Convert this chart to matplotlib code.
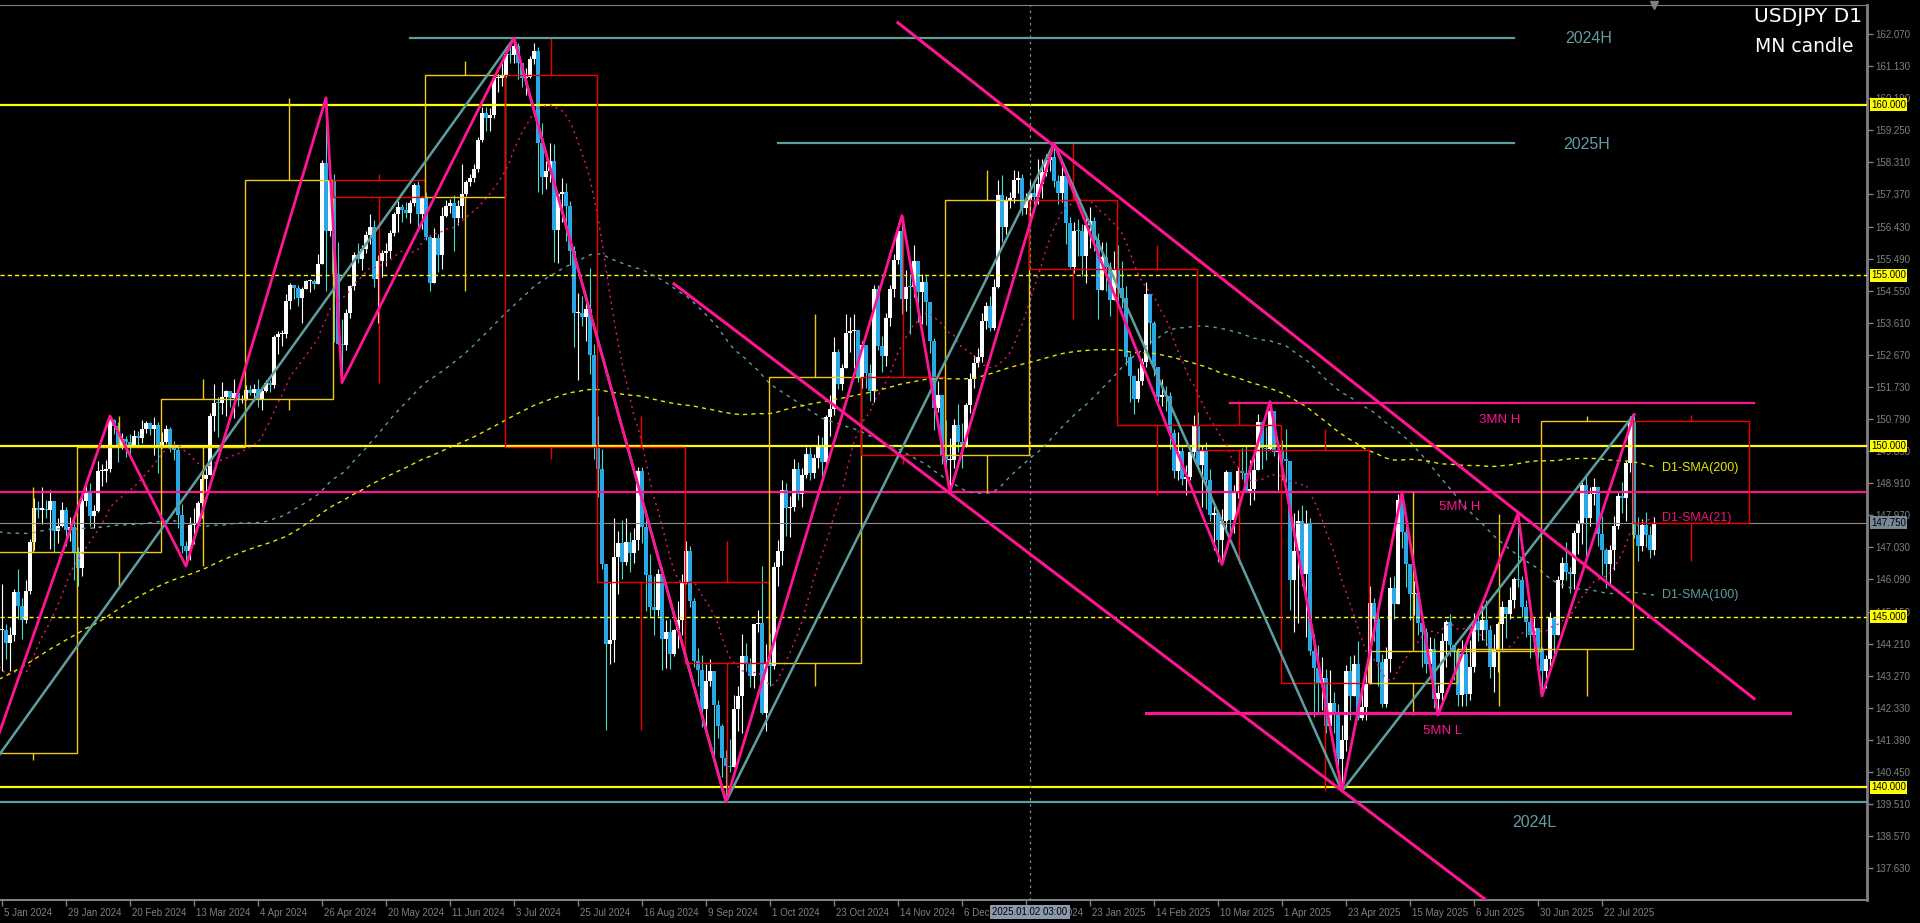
import numpy as np
import pandas as pd
import matplotlib
matplotlib.use("Agg")
import matplotlib.pyplot as plt
import matplotlib.transforms as mtransforms
from matplotlib.patches import Rectangle

plt.rcParams['font.family'] = ['Liberation Sans', 'DejaVu Sans']

# daily closes before the window (late Mar 2023 .. 29 Dec 2023), only used to warm up the SMAs
pre_closes = [
    131.0, 130.9, 132.9, 132.7, 132.8,
    132.5, 131.6, 131.3, 131.8, 132.1, 133.6, 133.7, 133.0, 132.6, 133.8, 134.2, 134.1, 134.7, 134.2, 134.1, 134.3, 133.7, 133.6, 134.0, 136.3,
    137.5, 136.5, 134.7, 134.3, 134.8, 135.1, 135.2, 134.4, 134.5, 135.7, 136.1, 136.4, 137.6, 138.7, 137.9, 138.6, 138.6, 139.5, 139.9, 140.6, 140.4, 139.8, 139.3,
    138.8, 139.9, 139.6, 139.1, 139.6, 139.4, 139.3, 140.2, 140.1, 140.0, 141.8, 141.9, 141.2, 141.9, 141.6, 142.9, 143.5, 143.7, 143.5, 144.4, 144.3, 144.3,
    144.7, 144.7, 144.2, 143.7, 142.2, 141.3, 140.4, 138.6, 138.8, 138.9, 138.7, 139.4, 140.0, 141.9, 141.5, 140.7, 141.5, 141.1, 139.9, 141.2, 142.3,
    143.3, 143.3, 142.6, 141.8, 142.5, 143.4, 143.7, 144.7, 144.9, 145.6, 145.5, 146.4, 145.8, 145.4, 145.9, 145.4, 144.8, 146.4, 146.5, 145.9, 146.1, 145.5, 145.6,
    146.2, 146.5, 147.7, 147.7, 147.3, 147.8, 146.6, 147.1, 147.4, 147.5, 147.9, 147.7, 147.9, 148.4, 148.3, 148.4, 148.9, 149.0, 149.6, 149.3, 149.4,
    149.9, 149.9, 149.1, 149.3, 149.3, 148.5, 148.7, 149.1, 149.8, 149.5, 149.5, 149.9, 149.8, 149.9, 149.9, 149.7, 149.9, 150.1, 150.4, 149.6, 149.6, 151.7,
    150.9, 150.4, 149.4, 150.0, 150.3, 151.0, 151.4, 151.5, 151.7, 150.3, 150.5, 149.7, 148.4, 148.6, 149.5, 149.7, 148.8, 147.4, 147.5, 148.2, 147.2, 148.1,
    146.8, 147.2, 147.0, 147.1, 144.1, 144.9, 145.3, 145.6, 145.4, 142.8, 141.9, 142.2, 142.8, 143.8, 143.6, 142.1, 142.4, 141.8, 141.4, 141.0,
]

# USDJPY D1, 2 Jan 2024 .. 8 Aug 2025 (one line per month)
closes = [
    141.98, 143.28, 144.60, 144.62, 144.23, 144.46, 145.73, 145.30, 144.90, 145.75, 147.19, 148.17, 148.14, 148.14, 148.12, 148.38, 147.52, 147.66, 148.13, 147.54, 147.63, 146.90,
    146.44, 148.38, 148.68, 147.94, 148.09, 149.28, 149.28, 149.34, 150.76, 150.60, 149.94, 150.20, 150.12, 150.01, 150.29, 150.24, 150.51, 150.66, 150.50, 150.62, 149.97,
    150.11, 150.51, 150.00, 149.88, 147.98, 147.06, 146.93, 147.70, 147.75, 148.34, 149.03, 149.15, 150.89, 151.27, 151.25, 151.43, 151.60, 151.41, 151.56, 151.35, 151.37,
    151.65, 151.56, 151.68, 151.34, 151.62, 151.85, 151.78, 153.18, 153.27, 153.28, 154.26, 154.72, 154.63, 154.35, 154.60, 154.83, 154.83, 154.75, 155.32, 158.30, 156.31, 157.79,
    155.03, 153.00, 152.97, 153.89, 154.69, 155.59, 155.48, 155.77, 156.19, 156.43, 154.88, 155.43, 155.64, 155.70, 156.23, 156.80, 156.99, 156.92, 156.84, 157.13, 157.64, 156.81, 157.29,
    156.11, 154.79, 156.08, 155.60, 156.73, 157.04, 157.11, 156.68, 157.03, 157.37, 157.73, 157.85, 158.12, 158.97, 159.77, 159.62, 159.71, 160.78, 160.78, 160.88,
    161.47, 161.45, 161.71, 161.21, 160.77, 160.80, 161.33, 161.58, 158.88, 157.87, 158.07, 158.34, 156.34, 157.37, 157.44, 157.04, 155.71, 153.90, 153.90, 153.78, 154.02, 152.68, 149.97,
    149.33, 146.53, 144.19, 144.31, 146.76, 147.16, 146.59, 147.19, 146.86, 147.25, 149.28, 147.62, 146.23, 145.28, 145.19, 146.25, 144.36, 144.55, 143.91, 144.61, 144.91, 146.03,
    146.93, 145.45, 143.71, 143.43, 142.30, 143.11, 143.41, 142.41, 141.79, 140.85, 140.62, 140.61, 142.29, 142.68, 143.86, 143.61, 143.25, 144.78, 144.81, 142.19, 143.63,
    143.55, 146.45, 146.93, 148.70, 148.19, 148.21, 149.33, 148.60, 149.14, 149.77, 149.22, 149.65, 150.04, 149.52, 150.86, 151.08, 152.76, 151.83, 152.29, 153.32, 153.37, 153.39, 152.02,
    152.97, 152.13, 151.62, 154.61, 152.94, 152.64, 153.76, 154.61, 155.46, 156.30, 154.30, 154.67, 154.66, 155.42, 154.52, 154.80, 154.23, 153.07, 151.10, 151.48, 149.75,
    149.58, 149.60, 150.62, 150.11, 149.97, 151.20, 151.95, 152.42, 152.60, 153.66, 154.09, 153.45, 154.66, 157.34, 156.43, 157.17, 157.28, 157.80, 157.84, 156.96, 157.20,
    157.40, 157.30, 157.68, 158.03, 158.37, 158.46, 157.76, 157.42, 157.92, 156.53, 155.24, 156.30, 156.29, 155.57, 156.47, 156.58, 156.03, 154.57, 155.54, 155.25, 154.27, 155.20,
    154.63, 154.34, 152.62, 152.06, 151.39, 151.91, 152.47, 154.46, 153.59, 152.31, 151.43, 151.48, 151.47, 150.38, 149.27, 149.84, 149.02, 149.09, 149.81, 150.63,
    149.45, 149.85, 149.01, 147.97, 148.04, 147.24, 147.81, 149.24, 147.83, 148.65, 149.27, 149.22, 148.68, 148.73, 149.31, 150.70, 149.93, 149.91, 151.02, 149.81, 149.88,
    149.62, 149.56, 146.07, 146.93, 147.80, 146.24, 147.72, 144.00, 143.49, 143.06, 143.20, 141.80, 142.47, 142.13, 140.84, 141.40, 143.42, 142.69, 143.62, 142.02, 142.35, 143.07,
    145.40, 144.92, 143.66, 142.43, 143.77, 145.85, 145.37, 148.42, 147.48, 146.54, 145.66, 145.68, 144.82, 144.54, 143.60, 144.04, 142.59, 142.75, 144.30, 144.84, 144.16, 143.99,
    142.72, 143.92, 142.73, 143.52, 144.86, 144.60, 144.90, 144.61, 143.52, 144.06, 144.78, 145.28, 145.09, 145.49, 146.10, 146.07, 145.29, 144.85, 144.45, 144.67, 144.06,
    143.40, 143.75, 144.95, 144.45, 146.08, 146.56, 146.30, 146.25, 147.44, 147.74, 148.87, 147.88, 148.59, 148.81, 147.41, 146.96, 146.53, 146.96, 147.67, 148.53, 148.47, 149.50, 150.73,
    147.40, 147.06, 147.68, 147.40, 146.96, 147.75,
]
highs = [
    142.20, 143.73, 144.85, 145.97, 144.79, 144.70, 145.80, 146.41, 145.56, 146.07, 147.28, 148.49, 148.38, 148.80, 148.43, 148.70, 148.25, 147.88, 148.36, 148.21, 147.92, 147.88,
    147.05, 148.58, 148.88, 148.91, 148.27, 149.57, 149.48, 149.58, 150.88, 150.78, 150.71, 150.38, 150.28, 150.35, 150.46, 150.43, 150.77, 150.72, 150.70, 150.84, 150.71,
    150.41, 150.61, 150.56, 150.16, 150.02, 148.31, 147.23, 147.93, 148.18, 148.38, 149.17, 149.36, 150.96, 151.82, 151.43, 151.87, 151.64, 151.62, 151.97, 151.58, 151.49,
    151.78, 151.79, 151.81, 151.95, 151.70, 151.92, 151.93, 153.25, 153.38, 153.40, 154.44, 154.78, 154.71, 154.73, 154.65, 154.85, 154.89, 154.88, 155.63, 158.39, 160.20, 157.94,
    157.98, 155.98, 153.71, 154.00, 154.72, 155.67, 155.95, 155.88, 156.29, 156.79, 156.63, 155.60, 155.75, 155.94, 156.34, 156.86, 157.19, 157.09, 157.15, 157.20, 157.71, 157.77, 157.33,
    157.44, 156.14, 156.40, 156.20, 157.00, 157.21, 157.25, 157.35, 157.20, 158.25, 157.80, 157.98, 158.27, 159.06, 159.94, 159.94, 159.89, 160.87, 160.89, 161.28,
    161.72, 161.73, 161.95, 161.82, 161.22, 161.08, 161.43, 161.80, 161.70, 159.45, 158.36, 158.87, 158.86, 157.40, 157.86, 157.70, 157.19, 155.85, 154.47, 154.39, 154.20, 155.22, 153.00,
    150.89, 149.91, 146.55, 145.98, 147.90, 147.50, 147.82, 147.88, 147.49, 147.60, 149.39, 149.39, 148.03, 146.85, 146.18, 146.40, 146.45, 144.91, 144.94, 144.65, 145.46, 146.25,
    147.21, 147.07, 145.56, 144.08, 143.88, 143.60, 143.77, 143.42, 142.55, 141.85, 141.08, 141.42, 142.72, 142.96, 144.49, 144.22, 143.80, 144.78, 145.21, 146.49, 144.20,
    144.53, 146.60, 147.24, 149.00, 148.91, 148.55, 149.63, 149.54, 149.36, 149.96, 149.98, 149.78, 150.32, 150.25, 150.90, 151.50, 153.19, 152.83, 152.41, 153.88, 153.78, 153.87, 153.24,
    153.08, 152.91, 152.41, 154.71, 154.72, 153.23, 153.91, 154.73, 155.62, 156.52, 156.75, 155.15, 155.05, 155.88, 155.19, 155.04, 154.98, 154.16, 153.16, 151.90, 151.38,
    150.75, 150.23, 150.78, 151.22, 150.68, 151.26, 152.13, 152.67, 152.86, 153.91, 154.23, 154.40, 154.90, 157.78, 157.93, 157.31, 157.45, 158.08, 158.06, 157.97, 157.42,
    157.79, 157.71, 158.42, 158.42, 158.55, 158.47, 158.87, 157.94, 158.19, 158.09, 156.71, 156.55, 156.64, 156.49, 156.79, 156.99, 156.71, 156.24, 155.97, 155.99, 155.38, 155.71,
    155.89, 155.42, 154.69, 152.72, 152.08, 152.29, 152.57, 154.80, 154.40, 153.66, 152.25, 151.97, 151.75, 151.57, 150.51, 150.41, 149.96, 149.44, 149.98, 150.91,
    150.99, 150.03, 150.12, 149.32, 148.33, 147.99, 148.15, 149.31, 149.20, 148.86, 149.38, 149.94, 149.99, 149.59, 149.76, 150.94, 150.72, 150.55, 151.30, 151.01, 150.00,
    150.18, 150.49, 149.28, 148.05, 148.14, 148.28, 148.14, 147.88, 144.50, 144.18, 143.81, 143.47, 143.43, 142.80, 142.43, 141.82, 143.59, 143.86, 143.87, 144.29, 142.91, 143.38,
    145.91, 145.55, 145.25, 143.90, 144.12, 146.17, 146.18, 148.59, 148.65, 147.65, 146.23, 146.04, 145.72, 145.11, 144.68, 144.40, 144.38, 142.99, 144.53, 144.90, 145.09, 144.09,
    144.07, 144.32, 144.28, 144.31, 145.10, 145.08, 145.34, 145.48, 144.76, 144.48, 144.84, 145.45, 145.29, 145.88, 146.16, 148.02, 146.19, 145.50, 145.02, 144.95, 144.56,
    144.11, 143.88, 145.14, 144.85, 146.18, 146.75, 147.18, 146.47, 147.53, 147.83, 149.00, 149.18, 148.81, 149.06, 148.81, 147.95, 147.00, 147.09, 147.95, 148.63, 148.96, 149.56, 150.89,
    150.92, 147.93, 147.85, 148.07, 147.66, 147.91,
]
lows = [
    140.81, 141.80, 142.88, 143.42, 143.76, 143.42, 144.29, 144.92, 144.35, 144.82, 145.67, 146.95, 147.90, 147.72, 147.90, 146.98, 146.89, 147.15, 147.62, 147.08, 147.21, 146.07,
    145.90, 146.20, 148.24, 147.65, 147.59, 148.07, 148.82, 148.94, 149.23, 150.36, 149.52, 149.91, 149.68, 149.64, 150.00, 150.04, 150.08, 150.38, 150.32, 149.75, 149.22,
    149.95, 150.07, 149.83, 149.58, 147.61, 146.88, 146.48, 146.67, 147.13, 147.71, 147.89, 148.66, 149.33, 150.44, 150.26, 150.93, 150.87, 151.14, 150.82, 151.17, 151.27,
    151.36, 151.50, 151.33, 151.14, 151.06, 151.58, 151.59, 151.71, 152.70, 152.92, 153.16, 154.02, 154.30, 154.09, 153.59, 154.60, 154.51, 154.60, 154.75, 155.36, 154.53, 156.14,
    153.04, 152.99, 151.86, 152.80, 153.74, 154.58, 155.37, 155.17, 155.66, 155.91, 154.66, 153.60, 154.94, 155.28, 155.51, 156.14, 156.28, 156.57, 156.67, 156.52, 157.03, 156.38, 156.35,
    156.03, 154.55, 155.20, 155.09, 155.20, 156.72, 156.84, 155.71, 156.48, 156.67, 157.32, 157.61, 157.73, 158.04, 158.92, 159.24, 159.23, 159.61, 160.38, 160.55,
    160.80, 161.23, 161.21, 160.74, 160.51, 160.27, 160.78, 161.20, 157.44, 157.38, 157.52, 157.72, 155.38, 155.37, 156.57, 156.01, 155.29, 152.90, 151.94, 153.53, 153.07, 152.10, 149.62,
    148.51, 146.41, 141.68, 143.61, 143.68, 145.65, 146.11, 146.50, 146.32, 146.58, 146.94, 147.16, 145.18, 144.95, 144.47, 145.01, 143.44, 143.50, 143.46, 143.85, 144.08, 144.46,
    145.96, 145.27, 143.53, 142.97, 141.76, 141.75, 142.96, 140.71, 141.45, 140.29, 139.58, 140.44, 140.78, 141.66, 141.60, 143.41, 142.95, 142.90, 144.56, 142.16, 141.65,
    142.97, 143.46, 145.91, 146.50, 147.35, 147.32, 148.09, 148.42, 148.22, 149.05, 148.99, 149.06, 149.35, 149.11, 149.45, 150.30, 150.91, 151.66, 151.64, 152.71, 152.75, 152.28, 151.88,
    151.70, 151.70, 151.32, 151.28, 152.82, 152.16, 152.33, 153.53, 154.37, 155.33, 153.86, 153.95, 153.28, 154.37, 153.63, 153.57, 153.55, 152.73, 150.46, 151.00, 149.47,
    149.10, 148.65, 149.36, 149.83, 149.37, 149.97, 150.98, 151.71, 152.31, 152.47, 153.43, 153.38, 153.40, 154.62, 155.98, 156.20, 156.98, 157.12, 157.41, 156.76, 156.81,
    156.74, 156.95, 157.08, 157.26, 157.90, 158.05, 157.60, 157.09, 157.16, 155.92, 155.22, 155.06, 155.56, 154.98, 154.77, 155.80, 155.71, 153.72, 154.62, 154.53, 153.81, 154.27,
    154.06, 154.03, 152.38, 151.30, 150.94, 151.30, 151.80, 152.31, 153.00, 152.05, 151.28, 151.16, 151.03, 149.92, 149.07, 149.00, 148.86, 148.56, 149.00, 149.56,
    149.33, 148.22, 148.15, 147.79, 146.94, 146.59, 146.53, 147.53, 147.40, 147.46, 148.49, 149.04, 148.64, 148.26, 148.43, 149.29, 149.34, 149.59, 149.88, 149.72, 148.70,
    149.00, 148.95, 145.19, 144.55, 144.81, 145.90, 144.40, 143.87, 142.05, 142.20, 142.26, 141.60, 141.62, 141.60, 140.61, 139.89, 141.07, 141.97, 142.75, 141.98, 141.96, 141.96,
    143.03, 144.28, 142.97, 142.35, 142.34, 143.37, 144.94, 145.68, 147.00, 145.88, 144.91, 145.04, 144.46, 143.52, 143.34, 143.29, 142.33, 142.12, 142.55, 143.54, 143.86, 143.14,
    142.38, 142.38, 142.39, 142.56, 143.39, 144.30, 144.32, 144.14, 143.19, 142.80, 143.39, 144.01, 144.37, 144.93, 145.25, 145.86, 144.98, 144.40, 143.78, 144.00, 143.77,
    142.68, 142.90, 143.56, 143.83, 144.68, 145.85, 146.08, 145.70, 145.82, 146.85, 147.14, 146.64, 147.66, 148.28, 147.08, 146.23, 145.85, 145.96, 146.37, 147.56, 148.03, 147.81, 149.24,
    147.30, 146.62, 146.93, 147.05, 146.73, 146.82,
]

# swing points of the two zigzags (date, price)
zigzag_small = [("2024-01-02", 140.81), ("2024-02-13", 150.88), ("2024-03-11", 146.48), ("2024-04-29", 160.20),
                ("2024-05-03", 151.86), ("2024-07-03", 161.95), ("2024-09-16", 139.58), ("2024-11-15", 156.75),
                ("2024-12-03", 148.65), ("2025-01-10", 158.87), ("2025-03-11", 146.53), ("2025-03-27", 151.30),
                ("2025-04-22", 139.89), ("2025-05-13", 148.65), ("2025-05-26", 142.12), ("2025-06-23", 148.02),
                ("2025-07-01", 142.68), ("2025-08-01", 150.92)]
zigzag_big = [("2023-12-28", 140.25), ("2024-07-03", 161.95), ("2024-09-16", 139.58),
              ("2025-01-10", 158.87), ("2025-04-22", 139.89), ("2025-08-01", 150.92)]

# hand drawn objects
channel_upper = [("2024-11-14", 162.40), ("2025-09-02", 142.60)]
channel_lower = [("2024-08-28", 154.75), ("2025-06-11", 136.70)]
high_2024 = ("2024-05-28", "2025-06-20", 161.95)
high_2025 = ("2024-10-03", "2025-06-20", 158.88)
high_3mn = ("2025-03-13", "2025-09-02", 151.26)
low_5mn = ("2025-02-12", "2025-09-11", 142.19)
high_5mn = 148.66
low_2024 = 139.56
round_levels = [160.0, 150.0, 140.0]
half_levels = [155.0, 145.0]
last_price = 147.75
crosshair_day = "2025-01-02"

CADET = '#5f9ea0'
PINK = '#ff1493'
YEL = '#ffff00'
GRAY = '#808080'


def trading_days(start, end):
    d = pd.bdate_range(start, end)
    return d[~(((d.month == 1) & (d.day == 1)) | ((d.month == 12) & (d.day == 25)))]


dates = trading_days('2024-01-02', '2025-08-08')
assert len(dates) == len(closes) == len(highs) == len(lows), (len(dates), len(closes), len(highs), len(lows))
first = dates.get_loc(pd.Timestamp('2024-01-05'))
xs = np.arange(len(dates)) - first

c = np.array(closes)
o = np.array([pre_closes[-1]] + closes[:-1])
h = np.maximum(np.array(highs), np.maximum(o, c))
l = np.minimum(np.array(lows), np.minimum(o, c))


def bar_x(day):
    day = pd.Timestamp(day)
    if day > dates[-1]:
        return xs[-1] + (day - dates[-1]).days
    if day < dates[0]:
        return xs[0] - (len(trading_days(day, dates[0])) - 1)
    return xs[dates.get_loc(day)]


fig = plt.figure(figsize=(19.2, 9.23), dpi=100, facecolor='black')
ax = fig.add_axes([0, 23 / 923, 1867 / 1920, 895 / 923])
ax.set_facecolor('black')
ax.set_xlim(-0.5, 466.25)
ax.set_ylim(136.70, 162.92)

# level lines
for lv in round_levels:
    ax.axhline(lv, color=YEL, lw=1.6, zorder=4)
for lv in half_levels:
    ax.axhline(lv, color=YEL, lw=1.0, ls=(0, (3, 2.2)), zorder=4)
ax.axhline(high_5mn, color=PINK, lw=1.6, zorder=4)
ax.axhline(low_2024, color=CADET, lw=1.6, zorder=4)
ax.axhline(last_price, color='#8c8c8c', lw=0.8, zorder=4)
ax.axvline(bar_x(crosshair_day), color='#7f8c99', lw=0.9, ls=(0, (2, 3)), zorder=4)

# candles
up = c >= o
body_lo = np.minimum(o, c)
body_h = np.maximum(np.abs(c - o), 0.03)
ax.vlines(xs[up], l[up], h[up], color='white', lw=0.8, zorder=2)
ax.vlines(xs[~up], l[~up], h[~up], color='#40e0d0', lw=0.8, zorder=2)
ax.bar(xs[up], body_h[up], bottom=body_lo[up], width=0.8, color='white', lw=0, zorder=3)
ax.bar(xs[~up], body_h[~up], bottom=body_lo[~up], width=0.8, color='#28a8e6', lw=0, zorder=3)

# moving averages
all_close = pd.Series(pre_closes + closes)
sma_styles = {21: ('#e8176f', (0, (1.5, 3))), 100: (CADET, (0, (2.5, 3.5))), 200: ('#e6e600', (0, (3, 3)))}
for n, (col, ls) in sma_styles.items():
    sma = all_close.rolling(n).mean().values[-len(dates):]
    ax.plot(xs, sma, color=col, lw=1.0, ls=ls, zorder=5)

# monthly candles
months = dates.to_period('M')
for m in months.unique():
    sel = np.where(months == m)[0]
    mo, mc = o[sel[0]], c[sel[-1]]
    mh, ml = h[sel].max(), l[sel].min()
    x0 = xs[sel[0]] - 0.3
    if sel[-1] + 1 < len(dates):
        x1 = xs[sel[-1] + 1] - 0.3
    else:
        x1 = bar_x((m + 1).start_time) - 0.3
    col = '#f2c811' if mc >= mo else '#ee0000'
    ax.add_patch(Rectangle((x0, min(mo, mc)), x1 - x0, abs(mc - mo), fill=False, ec=col, lw=1.0, zorder=6))
    xm = (x0 + x1) / 2
    ax.vlines(xm, max(mo, mc), mh, color=col, lw=1.0, zorder=6)
    ax.vlines(xm, ml, min(mo, mc), color=col, lw=1.0, zorder=6)

# horizontal segments
for d0, d1, p in [high_2024, high_2025]:
    ax.plot([bar_x(d0), bar_x(d1)], [p, p], color=CADET, lw=1.6, zorder=7)
ax.plot([bar_x(high_3mn[0]), bar_x(high_3mn[1])], [high_3mn[2]] * 2, color=PINK, lw=1.6, zorder=7)
ax.plot([bar_x(low_5mn[0]), bar_x(low_5mn[1])], [low_5mn[2]] * 2, color=PINK, lw=2.3, zorder=7)

# zigzags
zx = [bar_x(d) for d, _ in zigzag_big]
ax.plot(zx, [p for _, p in zigzag_big], color=CADET, lw=1.8, zorder=8)
zx = [bar_x(d) for d, _ in zigzag_small]
ax.plot(zx, [p for _, p in zigzag_small], color=PINK, lw=2.0, zorder=9)

# channel
for line in [channel_upper, channel_lower]:
    ax.plot([bar_x(d) for d, _ in line], [p for _, p in line], color=PINK, lw=2.2, zorder=9)

# object labels
ax.text(390.7, 161.95, "2024H", color=CADET, fontsize=11.5, va='center', ha='left', zorder=10)
ax.text(390.2, 158.82, "2025H", color=CADET, fontsize=11.5, va='center', ha='left', zorder=10)
ax.text(377.5, 138.98, "2024L", color=CADET, fontsize=11.5, va='center', ha='left', zorder=10)
ax.text(369.2, 150.76, "3MN H", color=PINK, fontsize=9.5, va='center', ha='left', zorder=10)
ax.text(359.2, 148.21, "5MN H", color=PINK, fontsize=9.5, va='center', ha='left', zorder=10)
ax.text(355.2, 141.65, "5MN L", color=PINK, fontsize=9.5, va='center', ha='left', zorder=10)
ax.text(415, 149.35, "D1-SMA(200)", color='#e6e600', fontsize=9, va='center', ha='left', zorder=10)
ax.text(415, 147.89, "D1-SMA(21)", color='#e8176f', fontsize=9, va='center', ha='left', zorder=10)
ax.text(415, 145.64, "D1-SMA(100)", color=CADET, fontsize=9, va='center', ha='left', zorder=10)

# price scale
ax.yaxis.tick_right()
yt = [137.63 + 0.94 * k for k in range(27)]
ax.set_yticks(yt)
ax.set_yticklabels([f"{v:.3f}" for v in yt])
ax.tick_params(axis='y', direction='out', length=4, width=1, color=GRAY, labelcolor=GRAY, labelsize=7, pad=2)

ytrans = mtransforms.blended_transform_factory(ax.transAxes, ax.transData)
for lv in round_levels + half_levels:
    ax.text(1 + 4 / 1867, lv, f"{lv:.3f}", transform=ytrans, fontsize=7, color='black', ha='left', va='center',
            bbox=dict(boxstyle='square,pad=0.15', fc=YEL, ec='none'), zorder=20, clip_on=False)
ax.text(1 + 4 / 1867, last_price, f"{last_price:.3f}", transform=ytrans, fontsize=7, color='black', ha='left',
        va='center', bbox=dict(boxstyle='square,pad=0.15', fc='#778899', ec='none'), zorder=20, clip_on=False)

# time scale
xt = np.arange(0, xs[-1] + 1, 16)
ax.set_xticks(xt)
ax.set_xticklabels([f"{dates[i + first].day} {dates[i + first].strftime('%b %Y')}" for i in xt])
ax.tick_params(axis='x', direction='out', length=4, width=1, color=GRAY, labelcolor=GRAY, labelsize=7, pad=2)
shift = mtransforms.ScaledTranslation(2 / 100, 0, fig.dpi_scale_trans)
for lab in ax.get_xticklabels():
    lab.set_horizontalalignment('left')
    lab.set_transform(lab.get_transform() + shift)

xtrans = mtransforms.blended_transform_factory(ax.transData, ax.transAxes)
ax.text(bar_x(crosshair_day), -0.0134, "2025.01.02 03:00", transform=xtrans, fontsize=7, color='black',
        ha='center', va='center', bbox=dict(boxstyle='square,pad=0.2', fc='#8a9aab', ec='none'),
        zorder=30, clip_on=False)
ax.plot([xs[-1]], [1.0], marker='v', ms=6, color=GRAY, transform=xtrans, clip_on=False, zorder=30)

for side in ['top', 'bottom', 'right']:
    ax.spines[side].set_color(GRAY)
ax.spines['right'].set_linewidth(2)
ax.spines['bottom'].set_linewidth(1.5)
ax.spines['left'].set_visible(False)

fig.text(1754 / 1920, 1 - 17 / 923, "USDJPY D1", color='white', fontsize=14.5, family='DejaVu Sans',
         ha='left', va='center')
fig.text(1755 / 1920, 1 - 46 / 923, "MN candle", color='white', fontsize=13.5, family='DejaVu Sans',
         ha='left', va='center')

fig.savefig('out.png', dpi=100, facecolor='black')
